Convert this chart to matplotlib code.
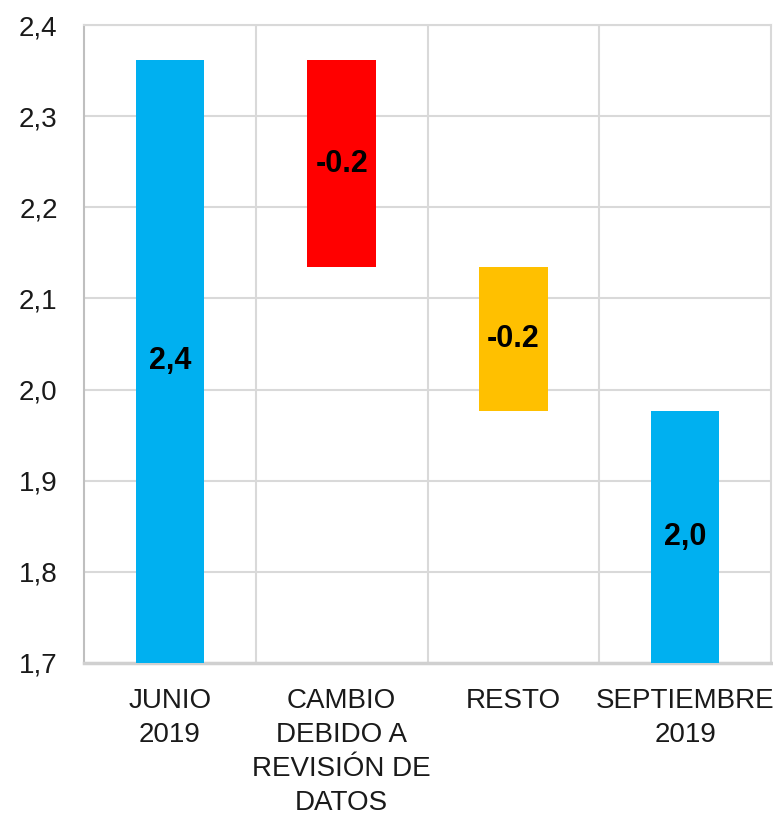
import matplotlib.pyplot as plt
import numpy as np

plt.rcParams['font.family'] = ['Liberation Sans', 'DejaVu Sans']

categories = ['JUNIO\n2019', 'CAMBIO\nDEBIDO A\nREVISIÓN DE\nDATOS', 'RESTO', 'SEPTIEMBRE\n2019']
start_value = 2.362
changes = [-0.228, -0.157]
end_value = 1.977
bar_labels = ['2,4', '-0.2', '-0.2', '2,0']
colors = ['#00B0F0', '#FF0000', '#FFC000', '#00B0F0']

y_min = 1.7
bottoms = [y_min]
heights = [start_value - y_min]
level = start_value
for c in changes:
    bottoms.append(level + c)
    heights.append(-c)
    level += c
bottoms.append(y_min)
heights.append(end_value - y_min)

fig = plt.figure(figsize=(7.73, 8.18), dpi=100)
ax = fig.add_axes([0.1087, 0.1895, 0.8887, 0.7799])

x = np.arange(len(categories))
ax.bar(x, heights, bottom=bottoms, width=0.4, color=colors, zorder=3)

for xi, b, h, lab in zip(x, bottoms, heights, bar_labels):
    ax.text(xi, b + h / 2, lab, ha='center', va='center',
            fontsize=22, fontweight='bold', color='black', zorder=4)

ax.set_xlim(-0.5, len(categories) - 0.5)
ax.set_ylim(1.7, 2.4)
ax.set_yticks(np.arange(1.7, 2.41, 0.1))
ax.set_yticklabels([f'{v:.1f}'.replace('.', ',') for v in np.arange(1.7, 2.41, 0.1)])
ax.set_xticks(x)
ax.set_xticklabels(categories, linespacing=1.4, va='top')
ax.tick_params(axis='both', length=0, labelsize=20, colors='#1a1a1a')
ax.tick_params(axis='y', pad=19)
ax.tick_params(axis='x', pad=18)

ax.set_xticks(np.arange(0.5, len(categories) - 0.5, 1), minor=True)
ax.tick_params(axis='x', which='minor', length=0)
ax.grid(axis='y', color='#D9D9D9', linewidth=1.5, zorder=0)
ax.grid(axis='x', which='minor', color='#D9D9D9', linewidth=1.5, zorder=0)

for s in ax.spines.values():
    s.set_color('#D9D9D9')
    s.set_linewidth(1.5)
ax.spines['left'].set_color('#BFBFBF')
ax.spines['bottom'].set_color('#D0D0D0')
ax.spines['bottom'].set_linewidth(2.5)

fig.savefig('out.png', dpi=100)
